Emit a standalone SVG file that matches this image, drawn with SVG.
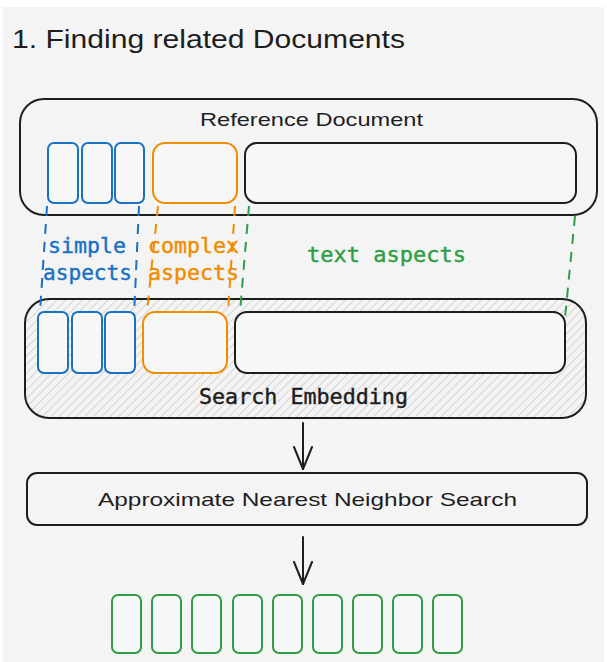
<svg xmlns="http://www.w3.org/2000/svg" width="607" height="662" viewBox="0 0 607 662">
  <defs>
    <pattern id="hatch" patternUnits="userSpaceOnUse" width="6" height="6" patternTransform="rotate(45)">
      <line x1="0" y1="0" x2="0" y2="6" stroke="#c2c2c2" stroke-width="1.3"/>
    </pattern>
    <marker id="arrow" markerUnits="userSpaceOnUse" viewBox="0 0 24 24" refX="23" refY="12" markerWidth="24" markerHeight="24" orient="auto">
      <path d="M1,3 L23,12 L1,21" fill="none" stroke="#1e1e1e" stroke-width="2" stroke-linecap="round" stroke-linejoin="round"/>
    </marker>
  </defs>
  <style>
    .box { fill: none; stroke: #1e1e1e; stroke-width: 2; }
    .inner { fill: #f7f7f7; stroke: #1e1e1e; stroke-width: 2; }
    .blue { fill: #f7f7f7; stroke: #1971c2; stroke-width: 2; }
    .orange { fill: #f7f7f7; stroke: #f08c00; stroke-width: 2; }
    .green { fill: #f7f7f7; stroke: #2f9e44; stroke-width: 2; }
    .dash { fill: none; stroke-width: 2; stroke-dasharray: 10 8; }
    .hand { font-family: "Liberation Sans", Arial, sans-serif; fill: #1e1e1e; }
    .mono { font-family: "DejaVu Sans Mono", "Liberation Mono", monospace; font-size: 21px; stroke-width: 0.4; }
    .conn { fill: none; stroke: #1e1e1e; stroke-width: 2; stroke-linecap: round; }
  </style>

  <!-- page -->
  <rect x="0" y="0" width="607" height="662" fill="#ffffff"/>
  <rect x="3" y="7" width="601" height="655" fill="#f4f4f4"/>

  <!-- title -->
  <text class="hand" x="12" y="48" font-size="26" textLength="393" lengthAdjust="spacingAndGlyphs">1. Finding related Documents</text>

  <!-- reference document -->
  <g id="reference-document">
    <rect class="box" x="20" y="99" width="577" height="116" rx="24"/>
    <text class="hand" x="200" y="126" font-size="19" textLength="223" lengthAdjust="spacingAndGlyphs">Reference Document</text>
    <rect class="blue" x="48" y="143" width="30" height="60" rx="6"/>
    <rect class="blue" x="82" y="143" width="30" height="60" rx="6"/>
    <rect class="blue" x="115" y="143" width="29" height="60" rx="6"/>
    <rect class="orange" x="153" y="143" width="84" height="60" rx="12"/>
    <rect class="inner" x="245" y="143" width="331" height="60" rx="12"/>
  </g>

  <!-- search embedding -->
  <g id="search-embedding">
    <rect x="25" y="299" width="561" height="119" rx="24" fill="#f4f4f4"/>
    <rect x="25" y="299" width="561" height="119" rx="24" fill="url(#hatch)" stroke="#1e1e1e" stroke-width="2"/>
    <rect class="blue" x="38" y="312" width="30" height="61" rx="6"/>
    <rect class="blue" x="72" y="312" width="30" height="61" rx="6"/>
    <rect class="blue" x="105" y="312" width="30" height="61" rx="6"/>
    <rect class="orange" x="143" y="312" width="84" height="61" rx="12"/>
    <rect class="inner" x="235" y="312" width="330" height="61" rx="12"/>
    <text class="mono" x="199" y="404" fill="#1e1e1e" stroke="#1e1e1e" textLength="209" lengthAdjust="spacingAndGlyphs">Search Embedding</text>
  </g>

  <!-- aspect mappings between the two rows, and the flow arrows -->
  <g id="connectors">
    <line class="dash" stroke="#1971c2" x1="47" y1="206" x2="40" y2="312"/>
    <line class="dash" stroke="#1971c2" x1="139" y1="206" x2="134" y2="316"/>
    <line class="dash" stroke="#f08c00" x1="158" y1="206" x2="147" y2="312"/>
    <line class="dash" stroke="#f08c00" x1="235" y1="206" x2="228" y2="312"/>
    <line class="dash" stroke="#2f9e44" x1="249" y1="206" x2="240" y2="312"/>
    <line class="dash" stroke="#2f9e44" x1="575" y1="216" x2="565" y2="318"/>
    <line class="conn" x1="303" y1="423" x2="303" y2="469" marker-end="url(#arrow)"/>
    <line class="conn" x1="303" y1="537" x2="303" y2="584" marker-end="url(#arrow)"/>
  </g>

  <g id="aspect-labels">
    <text class="mono" x="48" y="253" fill="#1971c2" stroke="#1971c2" textLength="78" lengthAdjust="spacingAndGlyphs">simple</text>
    <text class="mono" x="43" y="280" fill="#1971c2" stroke="#1971c2" textLength="89" lengthAdjust="spacingAndGlyphs">aspects</text>
    <text class="mono" x="148" y="253" fill="#f08c00" stroke="#f08c00" textLength="91" lengthAdjust="spacingAndGlyphs">complex</text>
    <text class="mono" x="148" y="280" fill="#f08c00" stroke="#f08c00" textLength="91" lengthAdjust="spacingAndGlyphs">aspects</text>
    <text class="mono" x="307" y="262" fill="#2f9e44" stroke="#2f9e44" textLength="159" lengthAdjust="spacingAndGlyphs">text aspects</text>
  </g>

  <!-- nearest neighbor search -->
  <g id="ann-search">
    <rect class="box" x="27" y="473" width="560" height="52" rx="10"/>
    <text class="hand" x="98" y="506" font-size="19" textLength="419" lengthAdjust="spacingAndGlyphs">Approximate Nearest Neighbor Search</text>
  </g>

  <!-- retrieved documents -->
  <g id="results">
    <rect class="green" x="112" y="595" width="29" height="58" rx="6"/>
    <rect class="green" x="152" y="595" width="29" height="58" rx="6"/>
    <rect class="green" x="192" y="595" width="29" height="58" rx="6"/>
    <rect class="green" x="233" y="595" width="29" height="58" rx="6"/>
    <rect class="green" x="273" y="595" width="29" height="58" rx="6"/>
    <rect class="green" x="313" y="595" width="29" height="58" rx="6"/>
    <rect class="green" x="353" y="595" width="29" height="58" rx="6"/>
    <rect class="green" x="393" y="595" width="29" height="58" rx="6"/>
    <rect class="green" x="433" y="595" width="29" height="58" rx="6"/>
  </g>
</svg>
